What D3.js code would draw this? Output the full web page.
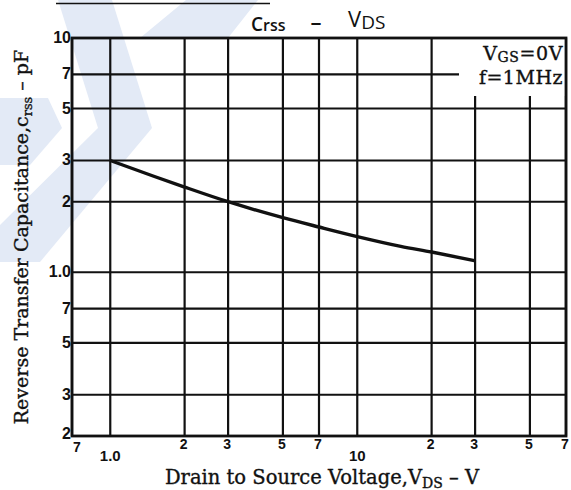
<!DOCTYPE html>
<html>
<head>
<meta charset="utf-8">
<script src="https://cdn.jsdelivr.net/npm/d3@7"></script>
<style>
  html, body { margin: 0; padding: 0; background: #fff; }
  svg { display: block; }
</style>
</head>
<body>
<svg id="chart" width="571" height="490"></svg>
<script>
// curve
const vds  = [1, 1.5, 2, 3, 5, 7, 10, 15, 20, 30];
const crss = [3.0, 2.57, 2.31, 2.0, 1.71, 1.56, 1.42, 1.29, 1.22, 1.12];

// grid lines of the log-log paper
const xGrid = [0.7, 1, 2, 3, 5, 7, 10, 20, 30, 50, 70];
const yGrid = [0.2, 0.3, 0.5, 0.7, 1, 2, 3, 5, 7, 10];

// tick labels
const xMinorTicks  = [0.7, 2, 3, 5, 7, 20, 30, 50, 70];
const xMinorLabels = ["7", "2", "3", "5", "7", "2", "3", "5", "7"];
const xMajorTicks  = [1, 10];
const xMajorLabels = ["1.0", "10"];
const yTicks  = [0.2, 0.3, 0.5, 0.7, 1, 2, 3, 5, 7, 10];
const yLabels = ["2", "3", "5", "7", "1.0", "2", "3", "5", "7", "10"];

const svg = d3.select("#chart");
const mLeft = 72, mRight = 566, mTop = 38, mBottom = 436;

const x = d3.scaleLog().domain([0.7, 70]).range([mLeft, mRight]);
const y = d3.scaleLog().domain([0.2, 10]).range([mBottom, mTop]);

// faint watermark behind the scan
const wm = svg.append("g").attr("fill", "#e3eaf6");
[
  [[58,0],[112,0],[152,128],[40,262],[0,262],[0,225],[98,128]],
  [[186,0],[258,0],[228,38],[140,38]],
  [[0,98],[48,98],[62,128],[30,165],[0,165]]
].forEach(p => wm.append("polygon").attr("points", p.join(" ")));

// short rule at the very top
svg.append("line")
  .attr("x1", 56).attr("x2", 270).attr("y1", 3.5).attr("y2", 3.5)
  .attr("stroke", "#111").attr("stroke-width", 1.5);

// grid
const grid = svg.append("g").attr("stroke", "#111").attr("stroke-width", 2.2);
grid.selectAll("line.v")
  .data(xGrid)
  .join("line")
  .attr("class", "v")
  .attr("x1", d => x(d)).attr("x2", d => x(d))
  .attr("y1", mTop).attr("y2", mBottom);
grid.selectAll("line.h")
  .data(yGrid)
  .join("line")
  .attr("class", "h")
  .attr("x1", mLeft).attr("x2", mRight)
  .attr("y1", d => y(d)).attr("y2", d => y(d));

// legend patch blanks the grid under the conditions
svg.append("rect")
  .attr("x", 459).attr("y", mTop + 1)
  .attr("width", mRight - 459 - 1).attr("height", 96 - mTop - 1)
  .attr("fill", "#fff");

// frame
svg.append("rect")
  .attr("x", mLeft).attr("y", mTop)
  .attr("width", mRight - mLeft).attr("height", mBottom - mTop)
  .attr("fill", "none").attr("stroke", "#111").attr("stroke-width", 2.8);

// curve
const line = d3.line()
  .x((d, i) => x(vds[i]))
  .y(d => y(d))
  .curve(d3.curveMonotoneX);
svg.append("path")
  .attr("d", line(crss))
  .attr("fill", "none")
  .attr("stroke", "#111")
  .attr("stroke-width", 3.4);

// y tick labels
const tickFont = "'Liberation Sans', Arial, sans-serif";
svg.append("g").selectAll("text")
  .data(yTicks)
  .join("text")
  .attr("x", mLeft - 1)
  .attr("y", (d, i) => y(d) + (i === 0 ? 3 : 5))
  .attr("text-anchor", "end")
  .attr("font-family", tickFont)
  .attr("font-weight", "bold")
  .attr("font-size", 16)
  .attr("fill", "#111")
  .text((d, i) => yLabels[i]);

// x tick labels
svg.append("g").selectAll("text")
  .data(xMinorTicks)
  .join("text")
  .attr("x", (d, i) => x(d) + (i === 0 ? 5 : -1))
  .attr("y", (d, i) => mBottom + (i === 0 ? 16 : 13))
  .attr("text-anchor", "middle")
  .attr("font-family", tickFont)
  .attr("font-weight", "bold")
  .attr("font-size", 14)
  .attr("fill", "#111")
  .text((d, i) => xMinorLabels[i]);
svg.append("g").selectAll("text")
  .data(xMajorTicks)
  .join("text")
  .attr("x", d => x(d))
  .attr("y", mBottom + 25)
  .attr("text-anchor", "middle")
  .attr("font-family", tickFont)
  .attr("font-weight", "bold")
  .attr("font-size", 15)
  .attr("fill", "#111")
  .text((d, i) => xMajorLabels[i]);

// title  Crss - VDS
const sans = "'Open Sans', 'DejaVu Sans', sans-serif";
const title = svg.append("text")
  .attr("font-family", sans).attr("font-weight", 600).attr("fill", "#111");
title.append("tspan").attr("x", 251).attr("y", 31).attr("font-size", 19).text("C");
title.append("tspan").attr("font-size", 16).text("rss");
svg.append("text")
  .attr("x", 316).attr("y", 30).attr("text-anchor", "middle")
  .attr("font-family", sans).attr("font-weight", 600).attr("font-size", 22)
  .attr("fill", "#111").text("–");
const t2 = svg.append("text")
  .attr("font-family", sans).attr("font-weight", 500).attr("fill", "#111");
t2.append("tspan").attr("x", 348).attr("y", 27).attr("font-size", 22).text("V");
t2.append("tspan").attr("font-size", 19).attr("dy", 2).text("DS");

// conditions
const serif = "'DejaVu Serif', 'Liberation Serif', serif";
const ink = sel => sel.attr("fill", "#111").attr("stroke", "#111").attr("stroke-width", 0.35);
const c1 = svg.append("text")
  .attr("x", 563).attr("y", 60).attr("text-anchor", "end")
  .attr("font-family", serif).attr("font-size", 19)
  .attr("letter-spacing", 0.6)
  .call(ink);
c1.append("tspan").text("V");
c1.append("tspan").attr("font-size", 14).attr("dy", 1.5).text("GS");
c1.append("tspan").attr("dy", -1.5).text("=0V");
svg.append("text")
  .attr("x", 563).attr("y", 84).attr("text-anchor", "end")
  .attr("font-family", serif).attr("font-size", 19)
  .attr("letter-spacing", 0.5)
  .call(ink)
  .text("f=1MHz");

// axis titles
const xl = svg.append("text")
  .attr("x", 322).attr("y", 484).attr("text-anchor", "middle")
  .attr("font-family", serif).attr("font-size", 19.5)
  .call(ink);
xl.append("tspan").text("Drain to Source Voltage,V");
xl.append("tspan").attr("font-size", 14).attr("dy", 4).text("DS");
xl.append("tspan").attr("dy", -4).text(" – V");

const yl = svg.append("text")
  .attr("transform", "translate(28,237) rotate(-90)")
  .attr("text-anchor", "middle")
  .attr("font-family", serif).attr("font-size", 19)
  .call(ink);
yl.append("tspan").text("Reverse Transfer Capacitance,c");
yl.append("tspan").attr("font-size", 13).attr("dy", 4).text("rss");
yl.append("tspan").attr("dy", -4).text(" – pF");
</script>
</body>
</html>
